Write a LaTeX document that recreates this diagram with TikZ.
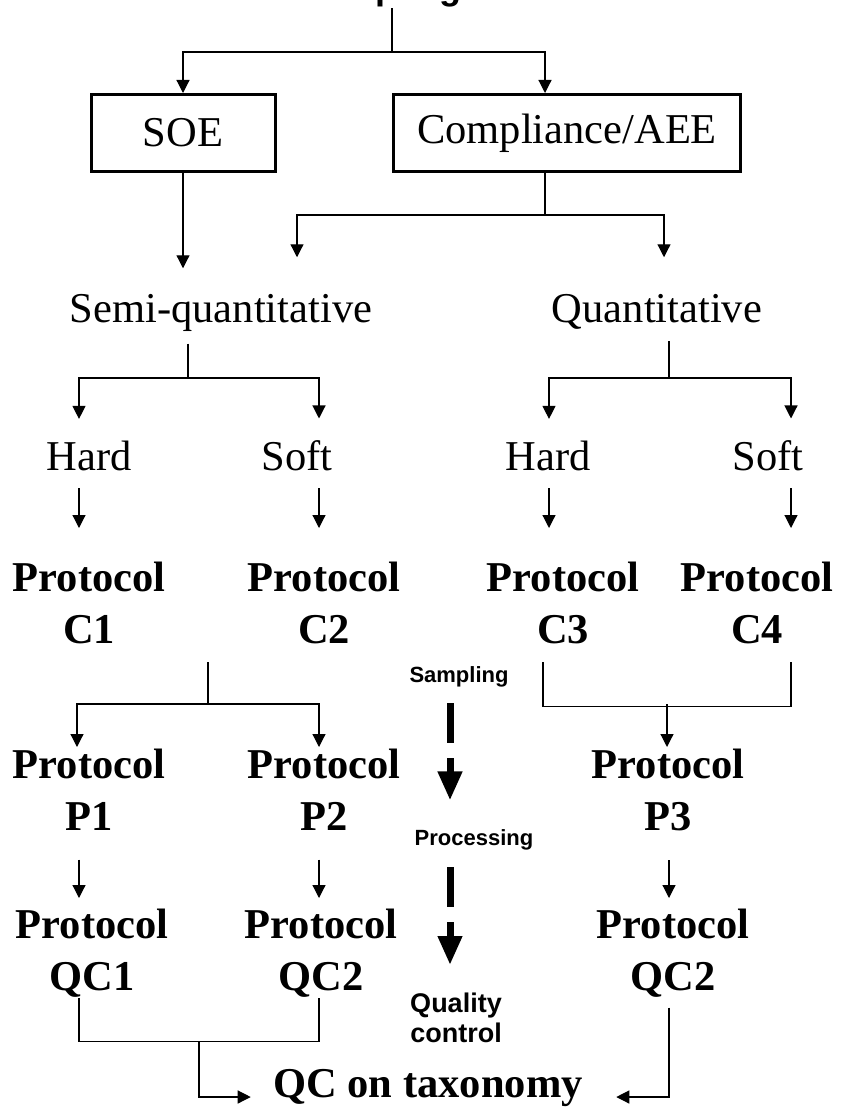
\documentclass[tikz,border=0pt]{standalone}
\usepackage{fontspec}
\setmainfont{Liberation Serif}
\setsansfont{Liberation Sans}
\usetikzlibrary{arrows.meta,calc}

\tikzset{
	arr/.style={-{Triangle[length=13pt,width=13pt]}},
	boxnode/.style={draw,line width=3pt,minimum height=77pt,inner sep=0pt,font=\fontsize{42.5}{52}\selectfont},
	txt/.style={inner sep=0pt,anchor=base,font=\fontsize{42.5}{52}\selectfont},
	prot/.style={inner sep=0pt,align=center,anchor=north,font=\bfseries\fontsize{42.5}{52}\selectfont},
	side/.style={inner sep=0pt,align=center,font=\sffamily\bfseries\fontsize{22}{30}\selectfont},
	bigdash/.style={line width=7pt,dash pattern=on 40pt off 15pt,-{Triangle[length=29pt,width=23pt]}}
}

\begin{document}
\begin{tikzpicture}[x=1pt,y=-1pt,line width=1.2pt]
	\useasboundingbox (0,0) rectangle (854,1115);
	\clip (0,0) rectangle (854,1115);
	% top level
	\node[side,anchor=base,font=\sffamily\bfseries\fontsize{36}{40}\selectfont] (title) at (380,0) {Sampling};
	\node[boxnode,minimum width=184pt] (soe) at (183,133) {SOE};
	\node[boxnode,minimum width=347pt] (comp) at (567,133) {Compliance/AEE};
	\node[txt] (semi) at (221,322) {Semi-quantitative};
	\node[txt] (quant) at (657,322) {Quantitative};
	\node[txt] (hard1) at (89,470) {Hard};
	\node[txt] (soft1) at (297,470) {Soft};
	\node[txt] (hard2) at (548,470) {Hard};
	\node[txt] (soft2) at (768,470) {Soft};
	% protocols
	\node[prot] (pc1) at (89,561) {Protocol\\C1};
	\node[prot] (pc2) at (324,561) {Protocol\\C2};
	\node[prot] (pc3) at (563,561) {Protocol\\C3};
	\node[prot] (pc4) at (757,561) {Protocol\\C4};
	\node[prot] (pp1) at (89,748) {Protocol\\P1};
	\node[prot] (pp2) at (324,748) {Protocol\\P2};
	\node[prot] (pp3) at (668,748) {Protocol\\P3};
	\node[prot] (pq1) at (92,908) {Protocol\\QC1};
	\node[prot] (pq2) at (321,908) {Protocol\\QC2};
	\node[prot] (pq3) at (673,908) {Protocol\\QC2};
	\node[txt,font=\bfseries\fontsize{42.5}{52}\selectfont] (taxo) at (428,1097) {QC on taxonomy};
	% stage labels
	\node[side,anchor=base] (lsamp) at (459,682) {Sampling};
	\node[side,anchor=base] (lproc) at (474,845) {Processing};
	\node[side,anchor=north,font=\sffamily\bfseries\fontsize{27}{30}\selectfont] (lqual) at (456,992) {Quality\\control};

	% connectors
	\coordinate (fork1) at (392,52);
	\draw (title.south -| fork1) -- (fork1);
	\draw[arr] (fork1) -| (soe.north);
	\draw[arr] (fork1) -| ([xshift=-22pt]comp.north);
	\draw[arr] (soe.south) -- ($(soe.south |- semi.north)+(0,-25)$);
	\coordinate (fork2) at (545,215);
	\draw ([xshift=-22pt]comp.south) -- (fork2);
	\draw[arr] (fork2) -| ($(semi.north)+(76,-36)$);
	\draw[arr] (fork2) -| ($(quant.north)+(7,-36)$);

	\coordinate (fork3) at (188,378);
	\draw ($(semi.south -| fork3)+(0,12)$) -- (fork3);
	\draw[arr] (fork3) -| ($(hard1.north)+(-10,-21)$);
	\draw[arr] (fork3) -| ($(soft1.north)+(22,-21)$);
	\coordinate (fork4) at (669,378);
	\draw ($(quant.south -| fork4)+(0,12)$) -- (fork4);
	\draw[arr] (fork4) -| ($(hard2.north)+(1,-21)$);
	\draw[arr] (fork4) -| ($(soft2.north)+(23,-21)$);

	\draw[arr] ($(hard1.south)+(-10,17)$) -- ($(pc1.north -| hard1.south)+(-10,-33)$);
	\draw[arr] ($(soft1.south)+(22,17)$) -- ($(pc2.north -| soft1.south)+(22,-33)$);
	\draw[arr] ($(hard2.south)+(1,17)$) -- ($(pc3.north -| hard2.south)+(1,-33)$);
	\draw[arr] ($(soft2.south)+(23,17)$) -- ($(pc4.north -| soft2.south)+(23,-33)$);

	\coordinate (fork5) at (208,704);
	\draw ($(fork5 |- pc2.south)+(0,18)$) -- (fork5);
	\draw[arr] (fork5) -| ($(pp1.north)+(-12,-1)$);
	\draw[arr] (fork5) -| ($(pp2.north)+(-5,-1)$);
	\draw ($(pc3.south)+(-20,18)$) |- ($(pc4.south)+(34,62)$) -- ($(pc4.south)+(34,18)$);
	\coordinate (fork6) at (667,704);
	\draw[arr] (fork6) -- ($(fork6 |- pp3.north)+(0,-1)$);

	\draw[arr] ($(pp1.south)+(-10,29)$) -- ($(pq1.north -| pp1.south)+(-10,-10)$);
	\draw[arr] ($(pp2.south)+(-5,29)$) -- ($(pq2.north -| pp2.south)+(-5,-10)$);
	\draw[arr] ($(pp3.south)+(1,29)$) -- ($(pq3.north -| pp3.south)+(1,-10)$);

	\draw ($(pq1.south)+(-13,0)$) |- ($(pq2.south)+(-2,44)$) -- ($(pq2.south)+(-2,0)$);
	\coordinate (fork7) at (199,1042);
	\draw[arr] (fork7) |- ($(taxo.base west)+(-22,0)$);
	\draw[arr] ($(pq3.south)+(-4,10)$) |- ($(taxo.base east)+(33,0)$);

	% stage arrows
	\draw[bigdash] ($(lsamp.south)+(-9,16)$) -- ($(lproc.north -| lsamp.south)+(-9,-28)$);
	\draw[bigdash] ($(lproc.south)+(-24,17)$) -- ($(lqual.north -| lproc.south)+(-24,-27)$);
\end{tikzpicture}
\end{document}
